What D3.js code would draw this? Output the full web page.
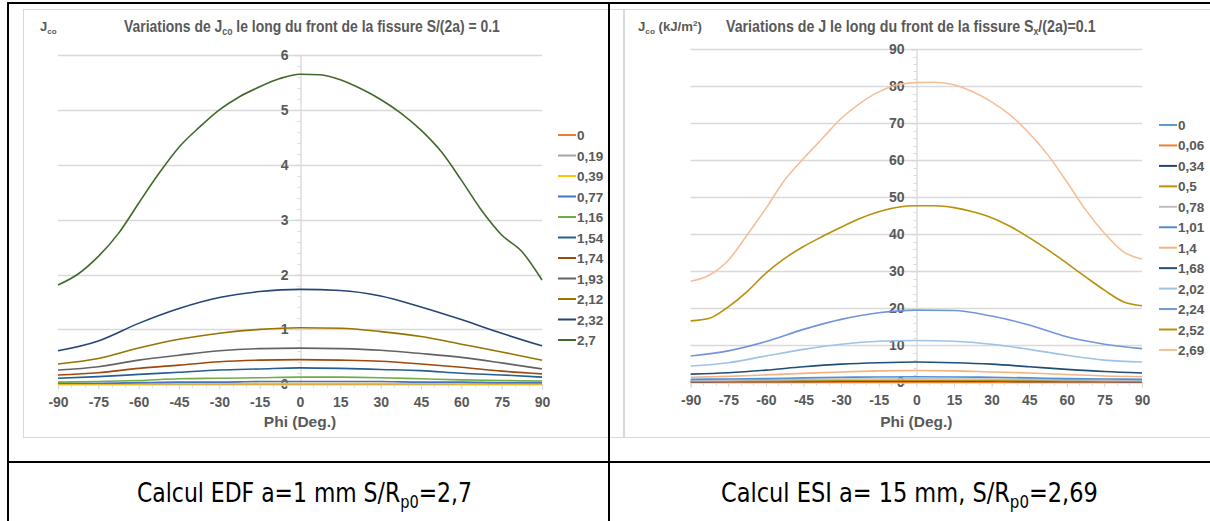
<!DOCTYPE html>
<html>
<head>
<meta charset="utf-8">
<script src="https://cdn.jsdelivr.net/npm/d3@7"></script>
<style>
  html, body { margin: 0; padding: 0; background: #fff; }
  svg { display: block; }
  text { font-family: "Liberation Sans", Arial, sans-serif; }
</style>
</head>
<body>
<svg id="chart" width="1210" height="521"></svg>
<script>
// ---------------- DATA ----------------
const phiFine = [-90,-82.5,-75,-67.5,-60,-52.5,-45,-37.5,-30,-22.5,-15,-7.5,0,7.5,15,22.5,30,37.5,45,52.5,60,67.5,75,82.5,90];
const phiCoarse = [-90,-75,-60,-45,-30,-15,0,15,30,45,60,75,90];
const xTicks = [-90,-75,-60,-45,-30,-15,0,15,30,45,60,75,90];
const leftYTicks = [0,1,2,3,4,5,6];
const rightYTicks = [0,10,20,30,40,50,60,70,80,90];

// Left chart (EDF) - Jco
const leftNames  = ["0","0,19","0,39","0,77","1,16","1,54","1,74","1,93","2,12","2,32","2,7"];
const leftColors = ["#ED7D31","#A5A5A5","#FFC000","#4472C4","#70AD47","#255E91","#9E480E","#636363","#997300","#264478","#43682B"];
const l0   = [0,0,0,0,0,0,0,0,0,0,0,0,0];
const l019 = [0.002,0.002,0.003,0.004,0.005,0.005,0.005,0.005,0.005,0.004,0.003,0.003,0.002];
const l039 = [0.005,0.006,0.008,0.010,0.012,0.013,0.013,0.013,0.012,0.010,0.008,0.007,0.006];
const l077 = [0.02,0.02,0.03,0.04,0.04,0.05,0.05,0.05,0.05,0.04,0.04,0.03,0.03];
const l116 = [0.04,0.05,0.07,0.10,0.11,0.12,0.13,0.13,0.12,0.10,0.08,0.07,0.06];
const l154 = [0.11,0.14,0.18,0.22,0.26,0.28,0.30,0.29,0.27,0.25,0.20,0.17,0.13];
const l174 = [0.17,0.21,0.29,0.35,0.41,0.44,0.45,0.44,0.42,0.37,0.31,0.24,0.19];
const l193 = [0.26,0.32,0.44,0.53,0.61,0.65,0.66,0.65,0.62,0.56,0.49,0.39,0.28];
const l212 = [0.37,0.47,0.66,0.82,0.93,1.00,1.03,1.02,0.96,0.87,0.73,0.59,0.44];
const l232 = [0.61,0.79,1.11,1.38,1.58,1.69,1.73,1.71,1.61,1.41,1.18,0.93,0.70];
const l27  = [1.81,2.01,2.33,2.75,3.30,3.84,4.32,4.68,5.00,5.24,5.42,5.57,5.65,5.64,5.55,5.39,5.19,4.94,4.63,4.24,3.72,3.17,2.72,2.42,1.90];

// Right chart (ESI) - Jco (kJ/m2)
const rightNames  = ["0","0,06","0,34","0,5","0,78","1,01","1,4","1,68","2,02","2,24","2,52","2,69"];
const rightColors = ["#5B9BD5","#ED7D31","#264478","#B8900A","#BFBFBF","#4F8FD6","#F4B183","#1F4E79","#9DC3E6","#7295DA","#B8900A","#F6BE98"];
const r0   = [0,0,0,0,0,0,0,0,0,0,0,0,0];
const r006 = [0.03,0.035,0.04,0.045,0.05,0.055,0.055,0.055,0.05,0.045,0.04,0.035,0.03];
const r034 = [0.18,0.20,0.22,0.25,0.27,0.29,0.30,0.29,0.27,0.25,0.22,0.20,0.18];
const r05  = [0.30,0.33,0.38,0.43,0.47,0.50,0.50,0.50,0.47,0.43,0.38,0.33,0.30];
const r078 = [0.50,0.55,0.65,0.75,0.85,0.90,0.92,0.90,0.85,0.75,0.65,0.55,0.50];
const r101 = [0.80,0.90,1.00,1.20,1.35,1.45,1.50,1.45,1.35,1.20,1.00,0.90,0.80];
const r14  = [1.35,1.6,2.0,2.4,2.8,3.1,3.2,3.1,2.8,2.5,2.1,1.7,1.5];
const r168 = [2.2,2.6,3.3,4.2,4.9,5.3,5.5,5.3,4.9,4.2,3.5,2.9,2.5];
const r202 = [4.4,5.3,7.1,8.9,10.3,11.1,11.3,11.1,10.3,8.9,7.3,6.0,5.5];
const r224 = [7.1,8.5,11.0,14.3,17.0,18.8,19.5,19.4,17.9,15.5,12.3,10.3,9.1];
const r252 = [16.6,17.3,20.4,24.5,29.5,33.5,36.7,39.4,41.9,44.3,46.1,47.3,47.7,47.7,47.2,46.1,44.5,42.1,39.1,35.8,32.2,28.5,24.9,21.8,20.7];
const r269 = [27.3,29.0,33.0,39.8,47.0,54.7,60.5,65.9,71.3,75.4,78.5,80.4,81.0,81.1,80.4,78.5,75.8,72.2,67.3,61.4,54.2,46.6,40.3,35.3,33.3];

const leftSeries = [
  {x: phiCoarse, y: l0}, {x: phiCoarse, y: l019}, {x: phiCoarse, y: l039}, {x: phiCoarse, y: l077},
  {x: phiCoarse, y: l116}, {x: phiCoarse, y: l154}, {x: phiCoarse, y: l174}, {x: phiCoarse, y: l193},
  {x: phiCoarse, y: l212}, {x: phiCoarse, y: l232}, {x: phiFine, y: l27}
];
const rightSeries = [
  {x: phiCoarse, y: r0}, {x: phiCoarse, y: r006}, {x: phiCoarse, y: r034}, {x: phiCoarse, y: r05},
  {x: phiCoarse, y: r078}, {x: phiCoarse, y: r101}, {x: phiCoarse, y: r14}, {x: phiCoarse, y: r168},
  {x: phiCoarse, y: r202}, {x: phiCoarse, y: r224}, {x: phiFine, y: r252}, {x: phiFine, y: r269}
];

// ---------------- DRAW ----------------
const svg = d3.select("#chart");
svg.append("rect").attr("width",1210).attr("height",521).attr("fill","#fff");

const GRID = "#D9D9D9", LABEL = "#595959";
const FONT = "'Liberation Sans', Arial, sans-serif";
const fmt = d => String(d);

function drawChart(cfg) {
  const g = svg.append("g");
  g.append("rect").attr("x", cfg.frame[0]).attr("y", cfg.frame[1])
    .attr("width", cfg.frame[2]).attr("height", cfg.frame[3])
    .attr("fill", "#fff").attr("stroke", GRID).attr("stroke-width", 1);

  const x = d3.scaleLinear().domain([-90, 90]).range(cfg.xRange);
  const y = d3.scaleLinear().domain(cfg.yDomain).range(cfg.yRange);

  g.append("g").selectAll("line").data(cfg.yTicks.filter(v => v !== 0)).join("line")
    .attr("x1", cfg.xRange[0]).attr("x2", cfg.xRange[1])
    .attr("y1", d => Math.round(y(d)) + 0.5).attr("y2", d => Math.round(y(d)) + 0.5)
    .attr("stroke", GRID).attr("stroke-width", 1.3);

  const x0 = Math.round(x(0)) + 0.5;
  const yAxis = d3.axisLeft(y).tickValues(cfg.yTicks).tickSize(5).tickPadding(7).tickFormat(fmt);
  const ya = g.append("g").attr("transform", `translate(${x0},0)`).call(yAxis)
    .attr("font-family", FONT);
  ya.select(".domain").attr("stroke", GRID).attr("stroke-width", 1.3);
  ya.selectAll(".tick line").attr("stroke", GRID);
  ya.selectAll("text").attr("fill", LABEL).attr("font-size", "14px").attr("font-weight", "bold");
  const yMinor = d3.range(cfg.yDomain[0], cfg.yDomain[1] + 1e-9, cfg.yMinor);
  g.append("g").selectAll("line").data(yMinor).join("line")
    .attr("x1", x0 - 3).attr("x2", x0)
    .attr("y1", d => Math.round(y(d)) + 0.5).attr("y2", d => Math.round(y(d)) + 0.5)
    .attr("stroke", GRID);

  const y0 = Math.round(y(0)) + 0.5;
  const xAxis = d3.axisBottom(x).tickValues(xTicks).tickSize(5).tickPadding(8).tickFormat(fmt);
  const xa = g.append("g").attr("transform", `translate(0,${y0})`).call(xAxis)
    .attr("font-family", FONT);
  xa.select(".domain").attr("stroke", GRID).attr("stroke-width", 1.3);
  xa.selectAll(".tick line").attr("stroke", GRID);
  xa.selectAll("text").attr("fill", LABEL).attr("font-size", "14px").attr("font-weight", "bold");
  const xMinor = d3.range(-90, 90.01, 5);
  g.append("g").selectAll("line").data(xMinor).join("line")
    .attr("x1", d => Math.round(x(d)) + 0.5).attr("x2", d => Math.round(x(d)) + 0.5)
    .attr("y1", y0).attr("y2", y0 + 3).attr("stroke", GRID);

  const line = d3.line().x(d => x(d[0])).y(d => y(d[1])).curve(d3.curveMonotoneX);
  cfg.series.forEach((s, i) => {
    const pts = s.x.map((v, k) => [v, s.y[k]]);
    g.append("path").attr("d", line(pts)).attr("fill", "none")
      .attr("stroke", cfg.colors[i]).attr("stroke-width", 1.6).attr("stroke-linejoin", "round");
  });

  g.append("text").attr("x", x(0)).attr("y", cfg.xTitleY).attr("text-anchor", "middle")
    .attr("fill", LABEL).attr("font-size", "15.5px").attr("font-weight", "bold").text("Phi (Deg.)");

  const lg = g.append("g");
  cfg.names.forEach((n, i) => {
    const ly = cfg.legend.y0 + i * cfg.legend.dy;
    lg.append("line").attr("x1", cfg.legend.x).attr("x2", cfg.legend.x + 18)
      .attr("y1", ly).attr("y2", ly).attr("stroke", cfg.colors[i]).attr("stroke-width", 2);
    lg.append("text").attr("x", cfg.legend.x + 19).attr("y", ly + 5)
      .attr("fill", LABEL).attr("font-size", "13.5px").attr("font-weight", "bold").text(n);
  });
  return g;
}

const gl = drawChart({
  frame: [23.5, 9.5, 600, 428],
  xRange: [58, 542], yDomain: [0, 6], yRange: [384.3, 55], yTicks: leftYTicks, yMinor: 0.2,
  series: leftSeries, colors: leftColors, names: leftNames,
  legend: {x: 558, y0: 135, dy: 20.5}, xTitleY: 427
});
const gr = drawChart({
  frame: [624.5, 9.5, 600, 428],
  xRange: [690.7, 1142], yDomain: [0, 90], yRange: [382.3, 49.3], yTicks: rightYTicks, yMinor: 2,
  series: rightSeries, colors: rightColors, names: rightNames,
  legend: {x: 1159, y0: 125, dy: 20.45}, xTitleY: 427
});

// Title text with optional horizontal fit (the source titles are slightly condensed)
function titleText(g, x, y, size, parts, fitWidth) {
  const holder = g.append("g");
  const t = holder.append("text").attr("x", 0).attr("y", 0).attr("fill", LABEL)
    .attr("font-size", size + "px").attr("font-weight", "bold");
  parts.forEach(p => {
    const ts = t.append("tspan").text(p.t);
    if (p.sub) ts.attr("font-size", (size * 0.62) + "px").attr("dy", 3);
    else if (p.sup) ts.attr("font-size", (size * 0.62) + "px").attr("dy", -5);
    if (p.back) ts.attr("dy", p.back);
  });
  let sx = 1;
  if (fitWidth) {
    const w = t.node().getBBox().width;
    if (w) sx = fitWidth / w;
  }
  holder.attr("transform", `translate(${x},${y}) scale(${sx},1)`);
  return t;
}
titleText(gl, 40, 31, 13, [{t:"J"},{t:"co",sub:true}]);
titleText(gl, 124, 32, 16.5, [{t:"Variations de J"},{t:"co",sub:true},{t:" le long du front de la fissure S/(2a) = 0.1", back:-3}], 376);
titleText(gr, 638, 31, 12.5, [{t:"J"},{t:"co",sub:true},{t:" (kJ/m", back:-3},{t:"2",sup:true},{t:")", back:5}], 64);
titleText(gr, 726, 32, 16.5, [{t:"Variations de J le long du front de la fissure S"},{t:"x",sub:true},{t:"/(2a)=0.1", back:-3}], 370);

const tb = svg.append("g").attr("stroke", "#000").attr("stroke-width", 2);
tb.append("line").attr("x1", 8).attr("x2", 1210).attr("y1", 3).attr("y2", 3);
tb.append("line").attr("x1", 8).attr("x2", 8).attr("y1", 2).attr("y2", 521);
tb.append("line").attr("x1", 609).attr("x2", 609).attr("y1", 2).attr("y2", 521);
tb.append("line").attr("x1", 8).attr("x2", 1210).attr("y1", 462).attr("y2", 462);

// Captions: condensed horizontally to mimic the narrow document font
function caption(cx, width, parts) {
  const g = svg.append("g");
  const t = g.append("text").attr("x", 0).attr("y", 0)
    .attr("fill", "#000").attr("font-size", "27px")
    .style("font-family", "'Liberation Sans Narrow', 'DejaVu Sans Condensed', 'Liberation Sans', sans-serif");
  parts.forEach(p => {
    const ts = t.append("tspan").text(p.t);
    if (p.sub) ts.attr("font-size", "18px").attr("dy", 6);
    if (p.back) ts.attr("dy", p.back);
  });
  const w = t.node().getBBox().width || width;
  g.attr("transform", `translate(${cx - width / 2},502) scale(${width / w},1)`);
}
caption(304.5, 335, [{t:"Calcul EDF a=1 mm S/R"},{t:"p0",sub:true},{t:"=2,7",back:-6}]);
caption(909.5, 377, [{t:"Calcul ESI a= 15 mm, S/R"},{t:"p0",sub:true},{t:"=2,69",back:-6}]);
</script>
</body>
</html>
